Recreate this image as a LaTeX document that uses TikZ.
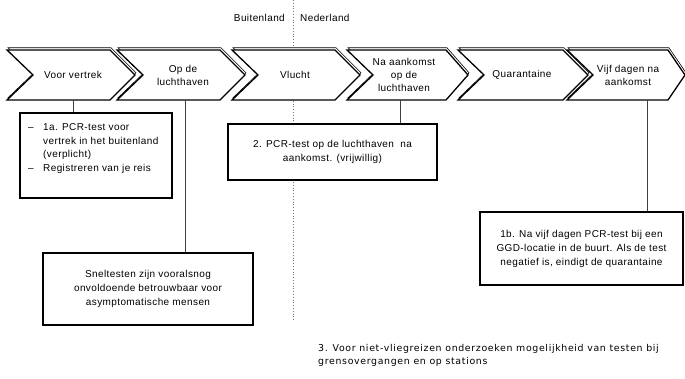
\documentclass[tikz,border=0pt]{standalone}
\usepackage{fontspec}
\setmainfont[LetterSpace=4]{Liberation Sans}
\newfontfamily\djv[LetterSpace=7]{DejaVu Sans}
\begin{document}
\begin{tikzpicture}[x=1pt,y=-1pt,
  chevline/.style={draw, line width=1.3pt, fill=white, line join=miter},
  chevshadow/.style={draw, line width=0.6pt, fill=white, line join=miter},
  chevtext/.style={align=center, inner sep=0pt, font=\fontsize{10}{13}\selectfont},
  infobox/.style={draw, line width=1.5pt, fill=white, inner sep=0pt, align=center,
    font=\fontsize{10}{14}\selectfont},
  conn/.style={draw, line width=0.8pt, black!75},
  lbl/.style={font=\fontsize{10}{11}\selectfont, inner sep=0pt}
]
\useasboundingbox (0,0) rectangle (685,379);

% dotted border line
\coordinate (dtop) at (293,0);
\coordinate (dbot) at (293,322);
\draw[black!55, line width=0.8pt, dotted] (dtop) -- (dbot);

\node[lbl, anchor=east] (bl) at (285,18) {Buitenland};
\node[lbl, anchor=west] (nl) at (300,18) {Nederland};

% chevrons: left x, tip x, tip depth
\foreach \x/\t/\d in {7/135/25, 117/245/25, 232/360/25, 347/468/22, 458/588/25, 567/685/17}{
  \draw[chevshadow] ([shift={(1,-2.2)}]\x,50) -- ([shift={(1,-2.2)}]\t-\d,50) -- ([shift={(1,-2.2)}]\t,75)
     -- ([shift={(1,-2.2)}]\t-\d,100) -- ([shift={(1,-2.2)}]\x,100) -- ([shift={(1,-2.2)}]\x+26,75) -- cycle;
  \draw[chevline] (\x,50) -- (\t-\d,50) -- (\t,75) -- (\t-\d,100) -- (\x,100) -- (\x+26,75) -- cycle;
}
\node[chevtext] (c1) at (73,75) {Voor vertrek};
\node[chevtext] (c2) at (183,75) {Op de\\luchthaven};
\node[chevtext] (c3) at (295,75) {Vlucht};
\node[chevtext] (c4) at (404,75) {Na aankomst\\op de\\luchthaven};
\node[chevtext] (c5) at (522,75) {Quarantaine};
\node[chevtext] (c6) at (628,75) {Vijf dagen na\\aankomst};

\coordinate (c1b) at (73,100);
\coordinate (c2b) at (185,100);
\coordinate (c4b) at (400,100);
\coordinate (c6b) at (647,100);

% boxes
\node[infobox, minimum width=152pt, minimum height=85pt] (a1) at (96,155.5) {};
\node[anchor=north west, inner sep=0pt, font=\fontsize{10}{13.5}\selectfont] (a1t) at (25,121)
  {\begin{tabular}{@{}p{18pt}@{}l@{}}
   \hspace{3pt}-- & 1a. PCR-test voor\\
   & vertrek in het buitenland\\
   & (verplicht)\\
   \hspace{3pt}-- & Registreren van je reis
   \end{tabular}};

\node[infobox, minimum width=209pt, minimum height=56pt] (b2) at (332.5,152)
  {2. PCR-test op de luchthaven \ na\\aankomst. (vrijwillig)};

\node[infobox, minimum width=210pt, minimum height=72pt] (s1) at (148,289)
  {Sneltesten zijn vooralsnog\\onvoldoende betrouwbaar voor\\asymptomatische mensen};

\node[infobox, minimum width=203pt, minimum height=73pt] (b1b) at (581.5,248.5)
  {1b. Na vijf dagen PCR-test bij een\\GGD-locatie in de buurt. Als de test\\negatief is, eindigt de quarantaine};

% connectors
\draw[conn] (c1b) -- (c1b |- a1.north);
\draw[conn] (c2b) -- (c2b |- s1.north);
\draw[conn] (c4b) -- (c4b |- b2.north);
\draw[conn] (c6b) -- (c6b |- b1b.north);

% bottom note
\node[anchor=north west, inner sep=0pt, align=left, font=\djv\fontsize{9.4}{12.5}\selectfont] (n3) at (318,344.5)
  {3. Voor niet-vliegreizen onderzoeken mogelijkheid van testen bij\\grensovergangen en op stations};
\end{tikzpicture}
\end{document}
